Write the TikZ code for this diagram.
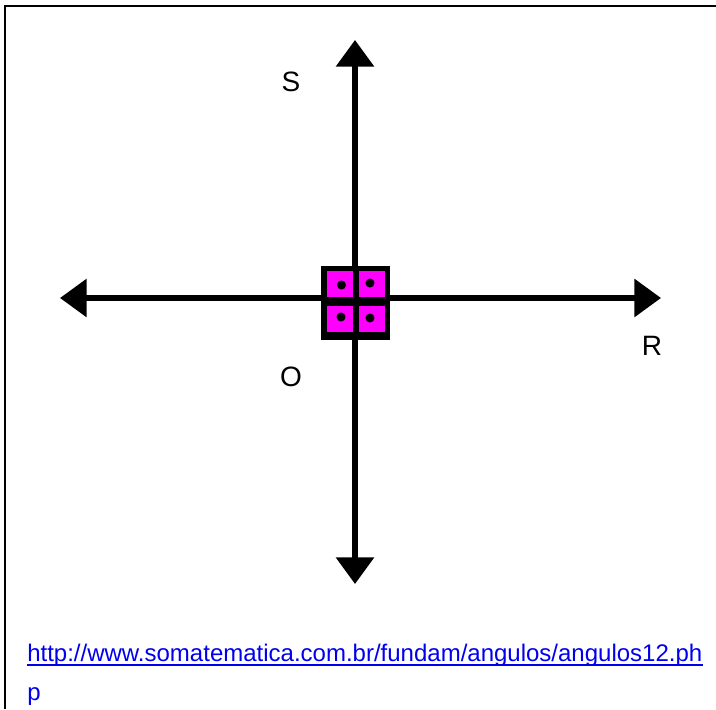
\documentclass[tikz,border=0pt]{standalone}
\usepackage{fontspec}
\setmainfont{Liberation Sans}
\usetikzlibrary{arrows.meta}
\definecolor{mag}{HTML}{FF00FF}
\definecolor{linkblue}{HTML}{0000EE}
\tikzset{
  axis/.style={line width=3.9pt,-{Triangle[width=28pt,length=20pt]}},
  cell/.style={fill=mag,draw=none,minimum width=19.5pt,minimum height=19.5pt,inner sep=0pt},
  dot/.style={circle,fill=black,minimum size=6.8pt,inner sep=0pt},
  lbl/.style={font=\fontsize{21}{24}\selectfont,inner sep=0pt},
  url/.style={font=\fontsize{18}{21}\selectfont,text=linkblue,inner sep=0pt,anchor=base west}
}
\begin{document}
\begin{tikzpicture}[x=0.75pt,y=-0.75pt]
\useasboundingbox (0,0) rectangle (716,709);
% frame (left and top only visible)
\draw[line width=1.6pt] (5,709) -- (5,6) -- (716,6);
% axes
\coordinate (c) at (355,298);
\coordinate (W) at (60,298);
\coordinate (E) at (661,298);
\coordinate (N) at (355,40);
\coordinate (Sth) at (355,584);
\draw[axis] (c) -- (W);
\draw[axis] (c) -- (E);
\draw[axis] (c) -- (N);
\draw[axis] (c) -- (Sth);
% central square
\node[fill=black,minimum width=51.75pt,minimum height=55.5pt,inner sep=0pt] (sq) at (355.5,303) {};
\node[cell] (c1) at (340,284) {};
\node[cell] (c2) at (372,284) {};
\node[cell] (c3) at (340,319) {};
\node[cell] (c4) at (372,319) {};
\node[dot] (d1) at (341.5,285) {};
\node[dot] (d2) at (370,283) {};
\node[dot] (d3) at (341,317) {};
\node[dot] (d4) at (370,318) {};
% labels
\node[lbl] (ls) at (291,82) {S};
\node[lbl] (lo) at (291,377) {O};
\node[lbl] (lr) at (652,346) {R};
% url
\node[url] (u1) at (27,661) {http://www.somatematica.com.br/fundam/angulos/angulos12.ph};
\draw[linkblue,line width=1.3pt] ([yshift=-3pt]u1.base west) -- ([yshift=-3pt]u1.base east);
\node[url] (u2) at (27,700) {p};
\end{tikzpicture}
\end{document}
